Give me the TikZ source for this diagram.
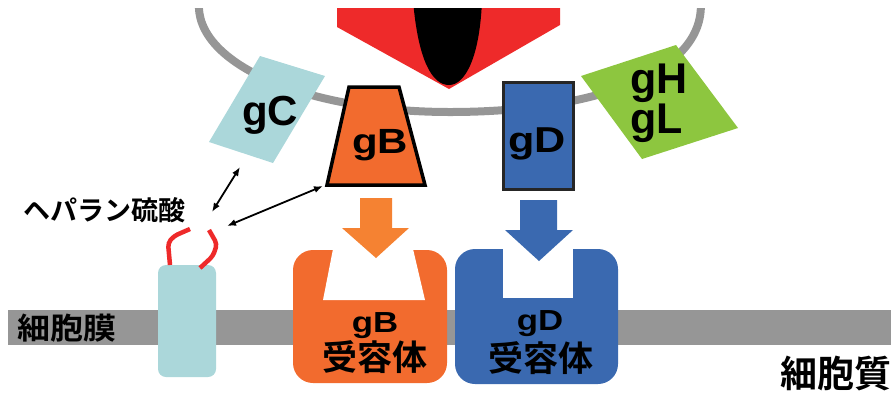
\documentclass[tikz,border=0pt]{standalone}
\usepackage{fontspec}
\setmainfont{Liberation Sans}
\newfontfamily\jp{Noto Sans CJK JP}[BoldFont={Noto Sans CJK JP Bold}]
\usepackage{xcolor}
\usepackage{tikz}
\usetikzlibrary{arrows.meta, positioning}

\definecolor{grigio}{RGB}{150,150,150}
\definecolor{celeste}{RGB}{171,215,218}
\definecolor{arancio}{RGB}{242,107,46}
\definecolor{arancioch}{RGB}{245,130,50}
\definecolor{blu}{RGB}{58,105,176}
\definecolor{verde}{RGB}{141,198,63}
\definecolor{rosso}{RGB}{238,42,42}

\newcommand{\fs}[1]{\fontsize{#1}{#1}\selectfont}

\begin{document}
\begin{tikzpicture}[x=1pt, y=-1pt,
    every node/.style={inner sep=0pt, font=\bfseries},
    lab/.style={anchor=base},
    freccia/.style={{Latex[length=9pt,width=7pt]}-{Latex[length=9pt,width=7pt]}, line width=1.8pt}]

    \useasboundingbox (0,0) rectangle (891,392);
    \begin{scope}
    \clip (0,8) rectangle (891,392);

    % Membrana
    \fill[grigio] (8,310) rectangle (891,345);

    % Involucro del virus
    \draw[grigio, line width=8pt] (200,-5) .. controls (186,60) and (300,112) .. (450,112)
        .. controls (600,112) and (712,70) .. (700,-5);

    % Capside
    \fill[rosso] (337,0) -- (560,0) -- (560,25) -- (449,89) -- (337,27) -- cycle;
    \fill[black] (413,0) .. controls (418,60) and (432,85) .. (449,85)
        .. controls (466,85) and (480,55) .. (482,0) -- cycle;

    % Glicoproteine
    \fill[celeste] (260,56) -- (325,76) -- (273,163) -- (209,142) -- cycle;
    \node[lab] (gC) at (270,125) {\fs{42}gC};

    \draw[fill=arancio, line width=3.5pt] (349,87) -- (399,87) -- (425,185) -- (327,185) -- cycle;
    \coordinate (gBbl) at (323,186);
    \node[lab] (gB) at (380,153) {\fs{35}\scalebox{1.2}[1]{gB}};

    \draw[fill=blu, draw=black!85, line width=3pt] (503,82) rectangle (573,189);
    \node[lab] (gD) at (537,152) {\fs{36}\scalebox{1.2}[1]{gD}};

    \fill[verde] (581,76) -- (676,45) -- (738,128) -- (642,159) -- cycle;
    \node[anchor=base west, align=left, font=\bfseries\fontsize{43}{38}\selectfont] (gHL) at (630,133) {gH\\gL};

    % Proteina con eparan solfato
    \fill[celeste, rounded corners=8pt] (158,265) rectangle (216,377);
    \draw[rosso, line width=4.5pt, rounded corners=4pt] (170,265) -- (168,243) -- (174,236) -- (190,229);
    \draw[rosso, line width=4.5pt, rounded corners=4pt] (209,230) -- (217,244) -- (213,256) -- (200,268);
    \node[anchor=base west] (hs) at (23,220) {\jp\fs{27}ヘパラン硫酸};
    \coordinate (hs1) at (212,212);
    \coordinate (hs2) at (227,226);
    \coordinate (gCb) at (240,167);
    \draw[freccia] (hs1) -- (gCb);
    \draw[freccia] (hs2) -- (gBbl);

    % Recettori
    \fill[arancio, rounded corners=20pt] (293,250) rectangle (447,383);
    \fill[white] (333,249) -- (413,249) -- (425,300) -- (323,300) -- cycle;
    \fill[blu, rounded corners=20pt] (455,249) rectangle (618,384);
    \fill[white] (503,248) rectangle (573,298);

    \fill[arancioch] (360,198) -- (392,198) -- (392,228) -- (409,228) -- (376,258) -- (342,228) -- (360,228) -- cycle;
    \fill[blu] (520,200) -- (557,200) -- (557,230) -- (573,230) -- (539,261) -- (505,230) -- (520,230) -- cycle;

    \node[lab] (rB) at (375,332) {\fs{29}\scalebox{1.2}[1]{gB}};
    \node[lab] (rBt) at (375,370) {\jp\fs{35}受容体};
    \node[lab] (rD) at (540,330) {\fs{29}\scalebox{1.2}[1]{gD}};
    \node[lab] (rDt) at (541,371) {\jp\fs{35}受容体};

    % Etichette
    \node[anchor=base west] (mem) at (17,339) {\jp\fs{30}\scalebox{1.1}[1]{細胞膜}};
    \node[anchor=base west] (cit) at (780,387) {\jp\fs{37}細胞質};
    \end{scope}
\end{tikzpicture}
\end{document}
